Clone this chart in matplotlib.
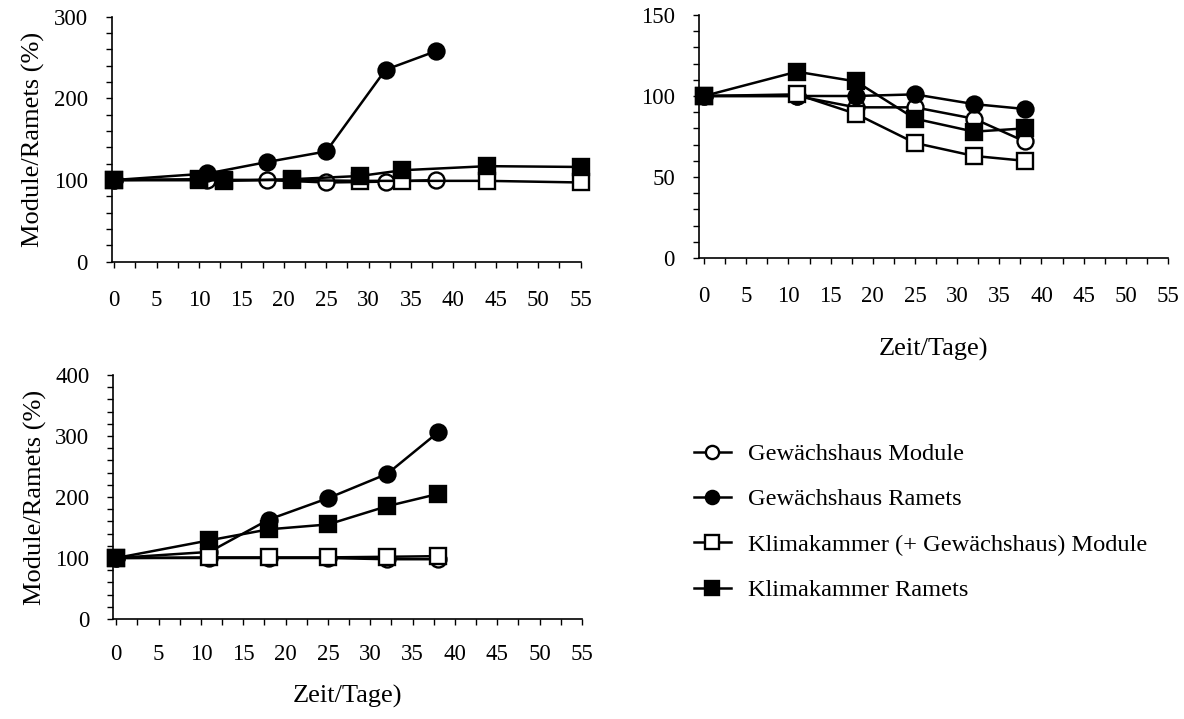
import matplotlib
matplotlib.use('Agg')
import matplotlib.pyplot as plt
from matplotlib.ticker import MultipleLocator
from matplotlib.lines import Line2D

plt.rcParams['font.family'] = ['Liberation Serif', 'DejaVu Serif']

# Versuch A: Gewaechshaus / Klimakammer mit unterschiedlichen Messtagen
days_a_gh = [0, 11, 18, 25, 32, 38]
days_a_kk = [0, 10, 13, 21, 29, 34, 44, 55]
a_gh_module = [100, 100, 100, 97, 98, 100]
a_gh_ramets = [100, 108, 122, 135, 235, 258]
a_kk_module = [100, 100, 100, 100, 99, 99, 99, 97]
a_kk_ramets = [100, 101, 99, 101, 105, 112, 117, 116]

# Versuch B
days_b = [0, 11, 18, 25, 32, 38]
b_gh_module = [100, 100, 93, 93, 86, 72]
b_gh_ramets = [100, 100, 100, 101, 95, 92]
b_kk_module = [100, 101, 89, 71, 63, 60]
b_kk_ramets = [100, 115, 109, 86, 78, 80]

# Versuch C
days_c = [0, 11, 18, 25, 32, 38]
c_gh_module = [100, 100, 100, 100, 98, 98]
c_gh_ramets = [100, 110, 163, 198, 238, 306]
c_kk_module = [100, 101, 101, 101, 102, 103]
c_kk_ramets = [100, 129, 147, 155, 185, 205]

labels = ['Gewächshaus Module', 'Gewächshaus Ramets',
          'Klimakammer (+ Gewächshaus) Module', 'Klimakammer Ramets']

W, H = 1184, 719
TICK_FS = 16.5
LABEL_FS = 19

styles = [
    dict(marker='o', mfc='white'),
    dict(marker='o', mfc='black'),
    dict(marker='s', mfc='white'),
    dict(marker='s', mfc='black'),
]


def px_axes(fig, left, top, right, bottom):
    return fig.add_axes([left / W, 1 - bottom / H, (right - left) / W, (bottom - top) / H])


def style_axes(ax, xmin, ymax, ymajor, yminor):
    ax.set_xlim(xmin, 55)
    ax.set_ylim(0, ymax)
    ax.spines['top'].set_visible(False)
    ax.spines['right'].set_visible(False)
    ax.spines['left'].set_linewidth(1.2)
    ax.spines['bottom'].set_linewidth(1.2)
    ax.xaxis.set_major_locator(MultipleLocator(5))
    ax.xaxis.set_minor_locator(MultipleLocator(2.5))
    ax.yaxis.set_major_locator(MultipleLocator(ymajor))
    ax.yaxis.set_minor_locator(MultipleLocator(yminor))
    ax.tick_params(which='both', direction='out', length=4.3, width=1.0)
    ax.tick_params(axis='x', which='major', pad=16, labelsize=TICK_FS)
    ax.tick_params(axis='y', which='major', pad=13, labelsize=TICK_FS)


def draw(ax, series):
    for (x, y), st in zip(series, styles):
        ax.plot(x, y, color='black', lw=1.8, ms=11.5, mec='black', mew=1.7,
                clip_on=False, **st)


fig = plt.figure(figsize=(W / 100, H / 100), dpi=100)

ax_a = px_axes(fig, 111.7, 16.7, 580.5, 261.7)
draw(ax_a, [(days_a_gh, a_gh_module), (days_a_gh, a_gh_ramets),
            (days_a_kk, a_kk_module), (days_a_kk, a_kk_ramets)])
style_axes(ax_a, -0.3, 300, 100, 20)
ax_a.set_ylabel('Module/Ramets (%)', fontsize=LABEL_FS, labelpad=6)

ax_b = px_axes(fig, 699, 15, 1168, 258)
draw(ax_b, [(days_b, b_gh_module), (days_b, b_gh_ramets),
            (days_b, b_kk_module), (days_b, b_kk_ramets)])
style_axes(ax_b, -0.6, 150, 50, 10)
ax_b.set_xlabel('Zeit/Tage)', fontsize=LABEL_FS, labelpad=22)

ax_c = px_axes(fig, 113.3, 375, 582, 619)
draw(ax_c, [(days_c, c_gh_module), (days_c, c_gh_ramets),
            (days_c, c_kk_module), (days_c, c_kk_ramets)])
style_axes(ax_c, -0.35, 400, 100, 20)
ax_c.tick_params(axis='x', which='major', pad=14)
ax_c.set_ylabel('Module/Ramets (%)', fontsize=LABEL_FS, labelpad=6)
ax_c.set_xlabel('Zeit/Tage)', fontsize=LABEL_FS, labelpad=14)

handles = [Line2D([], [], color='black', lw=1.8, ms=9.5, mec='black', mew=1.7, **st)
           for st in styles]
fig.legend(handles, labels, loc='upper left', bbox_to_anchor=(672 / W, 1 - 421 / H),
           frameon=False, fontsize=17.6, handlelength=1.5, handletextpad=0.7,
           labelspacing=0.95)

fig.savefig('out.png', dpi=100)
